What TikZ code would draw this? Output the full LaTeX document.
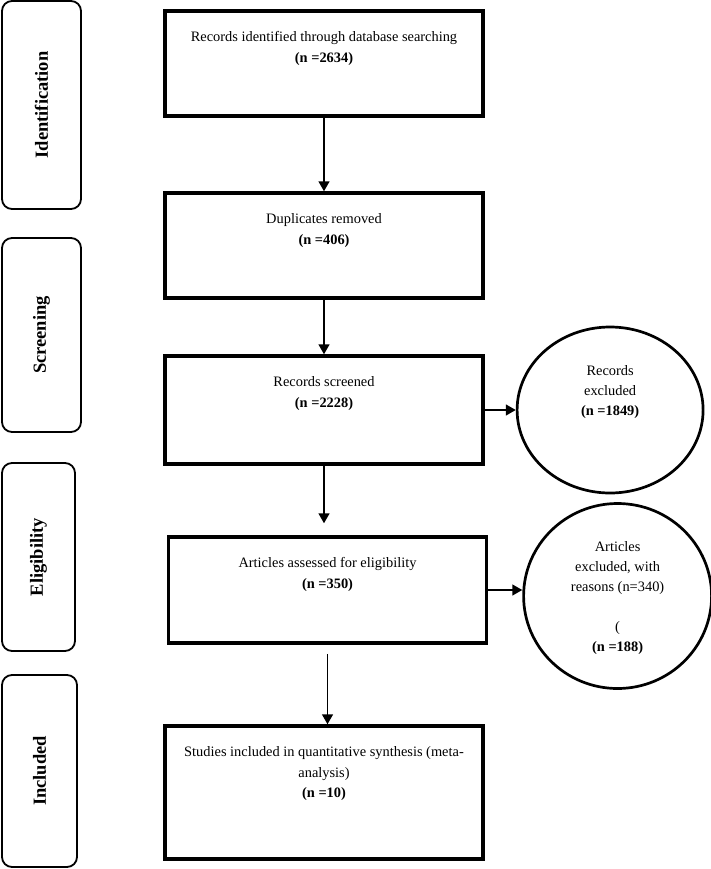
\documentclass[tikz,border=0pt]{standalone}
\usepackage{fontspec}
\setmainfont{Liberation Serif}
\usepackage{graphicx}
\usetikzlibrary{positioning,shapes.geometric,arrows.meta}

\tikzset{
  stage/.style={draw, line width=1.8pt, rounded corners=10pt, inner sep=0pt,
    font=\fontsize{18.5}{20}\selectfont\bfseries},
  stepbox/.style={draw, line width=3.5pt, minimum width=318pt, minimum height=105pt, inner sep=0pt},
  boxtext/.style={anchor=north, yshift=-19pt, align=center, font=\fontsize{14.4}{20.5}\selectfont},
  exctext/.style={anchor=north, yshift=-36pt, align=center, font=\fontsize{14.4}{20}\selectfont},
  exclude/.style={draw, ellipse, line width=2.7pt, inner sep=0pt},
  arr/.style={-{Triangle[length=10pt,width=11pt]}, line width=1.6pt},
}

\begin{document}
\begin{tikzpicture}[x=1pt, y=-1pt]
        \useasboundingbox (0,0) rectangle (711,869);

        % Stages (left column)
        \node (ident) [stage, minimum width=79pt, minimum height=208pt] at (41.5,105) {\rotatebox{90}{Identification}};
        \node (screen) [stage, minimum width=79pt, minimum height=194pt] at (41.5,335) {\rotatebox{90}{Screening}};
        \node (eligib) [stage, minimum width=73pt, minimum height=188pt] at (38.5,557) {\rotatebox{90}{Eligibility}};
        \node (includ) [stage, minimum width=75pt, minimum height=192pt] at (39.5,771) {\rotatebox{90}{Included}};

        % Main column
        \node (rec) [stepbox, label={[boxtext]north:{Records identified through database searching\\\textbf{(n =2634)}}}] at (324,63.5) {};
        \node (dup) [stepbox, below=73.5pt of rec, label={[boxtext]north:{Duplicates removed\\\textbf{(n =406)}}}] {};
        \node (scr) [stepbox, minimum height=108pt, below=54.5pt of dup, label={[boxtext]north:{Records screened\\\textbf{(n =2228)}}}] {};
        \node (elig) [stepbox, minimum height=106pt, below=69.5pt of scr, xshift=3.5pt, label={[boxtext]north:{Articles assessed for eligibility\\\textbf{(n =350)}}}] {};
        \node (incl) [stepbox, minimum height=133pt, below=79.5pt of elig, xshift=-3.5pt, label={[boxtext]north:{Studies included in quantitative synthesis (meta-\\analysis)\\\textbf{(n =10)}}}] {};

        % Exclusions (right column)
        \node (exc1) [exclude, minimum width=186pt, minimum height=166pt, right=31pt of scr, label={[exctext]north:{Records\\excluded\\\textbf{(n =1849)}}}] {};
        \node (exc2) [exclude, minimum width=188pt, minimum height=185pt, right=34pt of elig, yshift=-6pt, label={[exctext]north:{Articles\\excluded, with\\reasons (n=340)\\[20pt](\\\textbf{(n =188)}}}] {};

        % Vertical arrows
        \draw[arr] (rec) -- (dup);
        \draw[arr] (dup) -- (scr);
        \draw[arr, shorten >=12pt] (scr.south) -- (scr.south |- elig.north);
        \draw[arr, shorten <=9pt] (elig.south) -- (elig.south |- incl.north);

        % Horizontal arrows
        \draw[arr] (scr) -- (exc1);
        \draw[arr] (elig.east) -- (elig.east -| exc2.west);

\end{tikzpicture}
\end{document}
